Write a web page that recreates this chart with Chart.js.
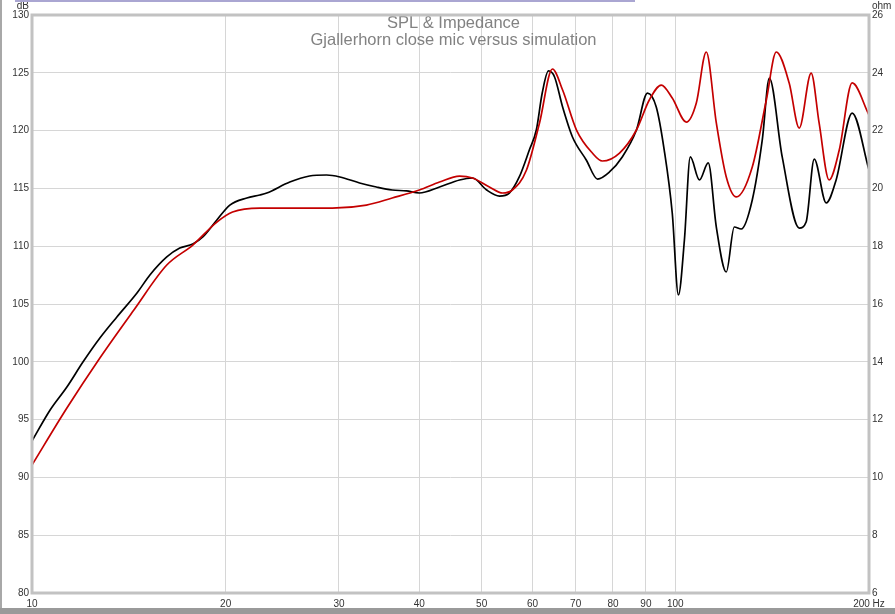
<!DOCTYPE html>
<html lang="en">

<head>
    <meta charset="UTF-8" />
    <title>SPL & Impedance</title>
    <script src="https://cdn.jsdelivr.net/npm/chart.js"></script>
    <style>
        body {
            margin: 0;
            background-color: #ffffff;
            font-family: "Liberation Sans", Arial, sans-serif;
        }

        #wrap {
            position: relative;
            width: 895px;
            height: 614px;
            overflow: hidden;
        }

        #spl {
            position: absolute;
            left: 0;
            top: 0;
        }

        .edge {
            position: absolute;
        }
    </style>
</head>

<body>
    <div id="wrap">
        <canvas id="spl" width="895" height="614"></canvas>
        <div class="edge" style="left:15px;top:0;width:620px;height:2px;background:#aaa6d2;"></div>
        <div class="edge" style="left:0;top:0;width:2px;height:614px;background:#a8a8a8;"></div>
        <div class="edge" style="left:0;top:608px;width:895px;height:6px;background:#9a9a9a;"></div>
    </div>

    <script>
        // frequency axis ticks
        const freqTicks = [10, 20, 30, 40, 50, 60, 70, 80, 90, 100, 200];
        const freqLabels = ['10', '20', '30', '40', '50', '60', '70', '80', '90', '100', '200 Hz'];

        // black: close mic measurement (Hz / dB)
        const micFreq = [10, 10.67, 11.33, 12.0, 12.75, 13.55, 14.56, 15.25, 16.2, 16.97, 17.78, 18.43, 19.38, 20.3,
            21.57, 22.6, 23.17, 25.16, 27.0, 28.7, 30.1, 32.3, 34.3, 36.3, 38.2, 40.0, 43.0, 46.2, 48.4, 50.9, 53.3,
            55.2, 57.2, 59.3, 60.8, 62.1, 63.5, 64.9, 66.8, 69.2, 72.7, 75.7, 79.0, 82.7, 87.0, 90.5, 93.4, 96.1,
            98.9, 101.1, 103.3, 105.5, 109.0, 112.5, 115.8, 120.0, 123.5, 126.6, 131.7, 136.5, 140.0, 146.6, 155.8,
            159.7, 164.4, 171.6, 177.8, 188.3, 200];
        const micDb = [93.15, 95.83, 97.82, 99.98, 102.06, 103.88, 105.95, 107.51, 109.07, 109.84, 110.19, 110.8,
            112.27, 113.56, 114.17, 114.43, 114.6, 115.55, 116.07, 116.16, 115.99, 115.47, 115.12, 114.86, 114.78,
            114.6, 115.12, 115.73, 115.9, 114.86, 114.34, 114.6, 115.99, 118.32, 120.05, 123.25, 125.16, 124.64,
            122.04, 119.45, 117.46, 115.81, 116.42, 117.72, 120.05, 123.25, 122.04, 118.32, 112.87, 105.78, 110.54,
            117.72, 115.73, 117.2, 111.66, 107.77, 111.66, 111.49, 114.0, 119.19, 124.55, 117.72, 111.57, 112.09,
            117.54, 113.74, 115.73, 121.52, 116.59];

        // red: simulation (Hz / dB)
        const simFreq = [10, 11.33, 12.75, 14.4, 16.2, 17.78, 19.38, 20.5, 22.6, 24.5, 29.3, 33.1, 36.3, 40.0, 43.0,
            46.2, 48.4, 51.4, 53.9, 55.8, 58.7, 61.5, 64.4, 66.8, 70.2, 74.3, 77.0, 81.9, 87.0, 91.1, 95.1, 98.9,
            104.0, 107.8, 111.7, 115.8, 120.0, 124.4, 131.7, 138.5, 143.5, 150.3, 155.8, 162.6, 167.3, 173.4, 179.8,
            188.3, 200];
        const simDb = [91.07, 96.0, 100.33, 104.48, 108.37, 110.1, 112.09, 112.96, 113.3, 113.3, 113.3, 113.56,
            114.17, 114.86, 115.55, 116.07, 115.9, 115.12, 114.6, 114.86, 116.59, 120.66, 125.33, 123.51, 120.05,
            118.06, 117.37, 118.06, 120.05, 122.65, 123.94, 122.82, 120.74, 122.39, 126.8, 120.66, 115.99, 114.26,
            116.85, 122.65, 126.8, 124.12, 120.22, 124.98, 120.66, 115.73, 118.32, 124.12, 121.35];

        const toPoints = (xs, ys) => xs.map((f, i) => ({ x: f, y: ys[i] }));

        const tickFont = { family: '"Liberation Sans", Arial, sans-serif', size: 10 };

        const decorations = {
            id: 'decorations',
            beforeDatasetsDraw(chart) {
                const { ctx, chartArea } = chart;
                const mid = (chartArea.left + chartArea.right) / 2 + 3;
                ctx.save();
                ctx.fillStyle = '#828282';
                ctx.font = '16.5px "Liberation Sans", Arial, sans-serif';
                ctx.textAlign = 'center';
                ctx.textBaseline = 'middle';
                ctx.fillText('SPL & Impedance', mid, 23);
                ctx.fillText('Gjallerhorn close mic versus simulation', mid, 40);
                ctx.restore();
            },
            afterDraw(chart) {
                const { ctx, chartArea } = chart;
                ctx.save();
                ctx.strokeStyle = '#c2c2c2';
                ctx.lineWidth = 3;
                ctx.strokeRect(chartArea.left, chartArea.top,
                    chartArea.right - chartArea.left, chartArea.bottom - chartArea.top);
                ctx.fillStyle = '#333';
                ctx.font = '10px "Liberation Sans", Arial, sans-serif';
                ctx.textBaseline = 'middle';
                ctx.textAlign = 'right';
                ctx.fillText('dB', 29, 6);
                ctx.textAlign = 'left';
                ctx.fillText('ohm', 872, 6);
                ctx.restore();
            }
        };

        new Chart(document.getElementById('spl'), {
            type: 'scatter',
            data: {
                datasets: [{
                    label: 'Simulation',
                    data: toPoints(simFreq, simDb),
                    showLine: true,
                    borderColor: '#c40000',
                    borderWidth: 1.7,
                    pointRadius: 0,
                    cubicInterpolationMode: 'monotone',
                    yAxisID: 'y'
                }, {
                    label: 'Close mic',
                    data: toPoints(micFreq, micDb),
                    showLine: true,
                    borderColor: '#000000',
                    borderWidth: 1.7,
                    pointRadius: 0,
                    cubicInterpolationMode: 'monotone',
                    yAxisID: 'y'
                }]
            },
            options: {
                responsive: false,
                animation: false,
                layout: { padding: { top: 15, left: 0, right: 0, bottom: 0 } },
                plugins: {
                    legend: { display: false },
                    tooltip: { enabled: false }
                },
                scales: {
                    x: {
                        type: 'logarithmic',
                        min: 10,
                        max: 200,
                        afterBuildTicks: (scale) => {
                            scale.ticks = freqTicks.map(v => ({ value: v }));
                        },
                        afterFit: (scale) => { scale.height = 21; },
                        grid: { color: '#d6d6d6', drawTicks: false, tickLength: 0 },
                        border: { display: false },
                        ticks: {
                            autoSkip: false,
                            maxRotation: 0,
                            padding: 5,
                            color: '#333',
                            font: tickFont,
                            callback: (v) => freqLabels[freqTicks.indexOf(v)]
                        }
                    },
                    y: {
                        position: 'left',
                        min: 80,
                        max: 130,
                        afterFit: (scale) => { scale.width = 32; },
                        grid: { color: '#d6d6d6', drawTicks: false, tickLength: 0 },
                        border: { display: false },
                        ticks: { stepSize: 5, padding: 3, color: '#333', font: tickFont }
                    },
                    y2: {
                        position: 'right',
                        min: 6,
                        max: 26,
                        afterFit: (scale) => { scale.width = 26; },
                        grid: { drawOnChartArea: false, drawTicks: false, tickLength: 0 },
                        border: { display: false },
                        ticks: { stepSize: 2, padding: 3, color: '#333', font: tickFont }
                    }
                }
            },
            plugins: [decorations]
        });
    </script>
</body>

</html>
